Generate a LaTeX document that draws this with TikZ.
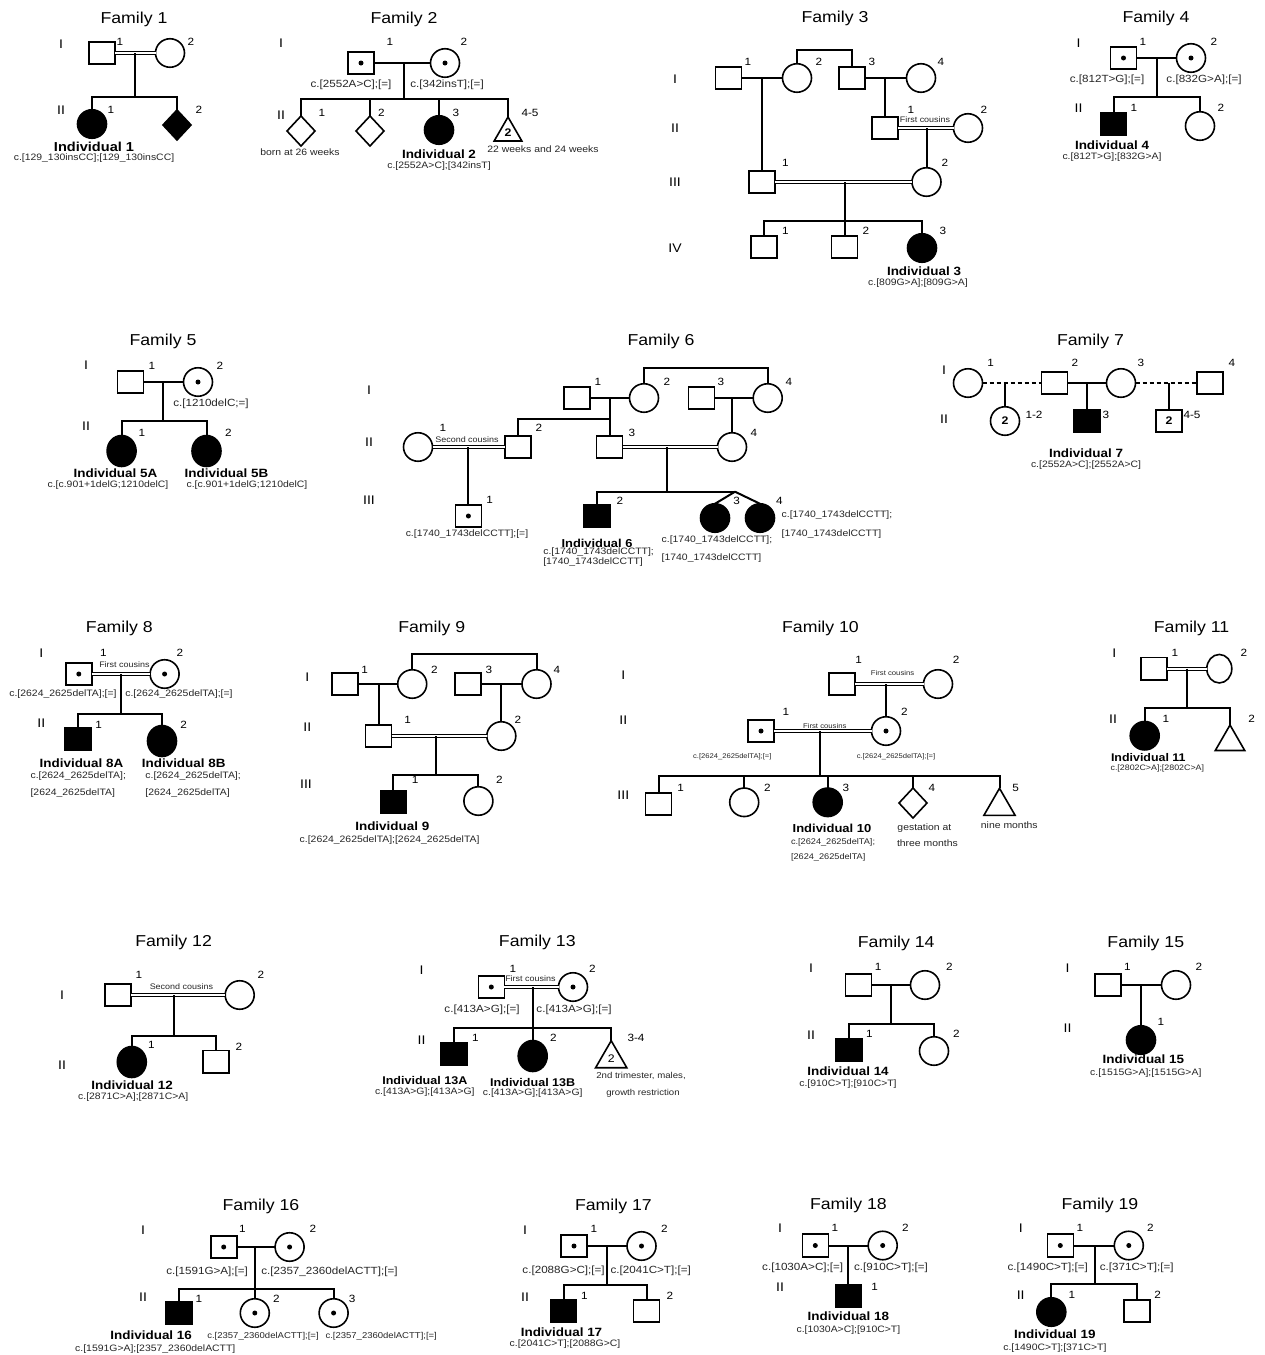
\documentclass[tikz,border=0pt]{standalone}
\usepackage{fontspec}
\setmainfont{Liberation Sans}[FakeStretch=1.12]
\usetikzlibrary{shapes.geometric}
\newcommand\fsz[1]{\fontsize{#1}{#1}\selectfont}
\begin{document}
\begin{tikzpicture}[x=1pt,y=-1pt,
  every node/.style={inner sep=0pt,outer sep=0pt},
  ln/.style={line width=2pt},
  dl/.style={double,line width=1pt,double distance=1.8pt},
  dsh/.style={line width=2pt,dash pattern=on 4pt off 3pt},
  sq/.style={draw,line width=1.6pt,fill=white,minimum width=26pt,minimum height=22.5pt},
  ci/.style={draw,ellipse,line width=1.6pt,fill=white,minimum width=29pt,minimum height=28.5pt},
  dm/.style={draw,diamond,line width=1.6pt,fill=white,minimum width=28pt,minimum height=30pt},
  tri/.style={draw,regular polygon,regular polygon sides=3,line width=1.6pt,fill=white,minimum size=36pt},
  aff/.style={fill=black},
  car/.style={path picture={\fill[black] (path picture bounding box.center) circle (2.5pt);}},
  ttl/.style={font=\fsz{15.8}},
  gen/.style={font=\fsz{12.5}},
  num/.style={font=\fsz{10.5}},
  ind/.style={font=\bfseries\fsz{12}},
  mut/.style={font=\fsz{9.3},text=black!85},
  par/.style={font=\fsz{10.4},text=black!85},
  cous/.style={font=\fsz{8},text=black!85},
  nt/.style={font=\fsz{9.3},text=black!85},
  inn/.style={font=\bfseries\fsz{11}},
]
\fill[white] (0,0) rectangle (1265,1355);
\useasboundingbox (0,0) rectangle (1265,1355);

% ---------------- Family 1
\node[ttl] at (134,19) {Family 1};
\node[gen] at (61,44) {I};
\node[gen] at (61,110) {II};
\node[sq] (f1a) at (102,53) {};
\node[ci] (f1b) at (170,53) {};
\node[num] at (120,42) {1};
\node[num] at (191,42) {2};
\draw[dl] (f1a) -- (f1b);
\coordinate (f1m) at (135,53);
\coordinate (f1s) at (135,97);
\draw[ln] (f1m) -- (f1s);
\node[ci,aff] (f1c) at (92,124) {};
\node[dm,aff] (f1d) at (177,125) {};
\draw[ln] (f1c.north) |- (f1s) -| (f1d.north);
\node[num] at (111,110) {1};
\node[num] at (199,110) {2};
\node[ind,font=\bfseries\fsz{13}] at (94,147) {Individual 1};
\node[mut] at (94,158) {c.[129\_130insCC];[129\_130insCC]};

% ---------------- Family 2
\node[ttl] at (404,19) {Family 2};
\node[gen] at (281,43) {I};
\node[gen] at (281,115) {II};
\node[sq,car] (f2a) at (361,63) {};
\node[ci,car] (f2b) at (445,63) {};
\node[num] at (390,42) {1};
\node[num] at (464,42) {2};
\draw[ln] (f2a) -- (f2b);
\coordinate (f2m) at (404,63);
\coordinate (f2s) at (404,99);
\draw[ln] (f2m) -- (f2s);
\node[par] at (351,85) {c.[2552A>C];[=]};
\node[par] at (447,85) {c.[342insT];[=]};
\node[dm] (f2c) at (301,131) {};
\node[dm] (f2d) at (370,131) {};
\node[ci,aff] (f2e) at (439,130) {};
\node[tri,inn,minimum size=32pt] (f2f) at (508,133) {2};
\draw[ln] (f2c.north) |- (f2s) -| (f2f.north);
\draw[ln] (f2d.north) -- (f2d.north |- f2s);
\draw[ln] (f2e.north) -- (f2e.north |- f2s);
\node[num] at (322,113) {1};
\node[num] at (381.5,113) {2};
\node[num] at (456,113) {3};
\node[num] at (530,113) {4-5};
\node[nt] at (300,152) {born at 26 weeks};
\node[ind] at (439,154) {Individual 2};
\node[mut] at (439,166) {c.[2552A>C];[342insT]};
\node[nt] at (543,149) {22 weeks and 24 weeks};

% ---------------- Family 3
\node[ttl] at (835,18) {Family 3};
\node[gen] at (675,79) {I};
\node[gen] at (675,128) {II};
\node[gen] at (675,182) {III};
\node[gen] at (675,248) {IV};
\node[sq] (f3a) at (728.5,78) {};
\node[ci] (f3b) at (797,78) {};
\node[sq] (f3c) at (852,78) {};
\node[ci] (f3d) at (921,78) {};
\node[num] at (748,62) {1};
\node[num] at (819,62) {2};
\node[num] at (872,62) {3};
\node[num] at (941,62) {4};
\coordinate (f3t) at (824,50);
\draw[ln] (f3b.north) |- (f3t) -| (f3c.north);
\draw[ln] (f3a) -- (f3b);
\draw[ln] (f3c) -- (f3d);
\coordinate (f3m1) at (762,78);
\coordinate (f3m2) at (885,78);
\node[sq] (f3g) at (885,128) {};
\node[ci] (f3h) at (968,128) {};
\draw[ln] (f3m2) -- (f3g.north);
\draw[dl] (f3g) -- (f3h);
\node[cous] at (925,120) {First cousins};
\node[num] at (911,110) {1};
\node[num] at (984,110) {2};
\node[sq] (f3e) at (762,182) {};
\node[ci] (f3i) at (926.5,182) {};
\draw[ln] (f3m1) -- (f3e.north);
\coordinate (f3m3) at (926.5,128);
\draw[ln] (f3m3) -- (f3i.north);
\draw[dl] (f3e) -- (f3i);
\node[num] at (785.5,163) {1};
\node[num] at (945,163) {2};
\coordinate (f3m4) at (844.5,182);
\coordinate (f3s) at (844.5,221);
\draw[ln] (f3m4) -- (f3s);
\node[sq] (f3j) at (764,247) {};
\node[sq] (f3k) at (844.5,247) {};
\node[ci,aff] (f3l) at (922,248) {};
\draw[ln] (f3j.north) |- (f3s) -| (f3l.north);
\draw[ln] (f3k.north) -- (f3k.north |- f3s);
\node[num] at (785.5,231) {1};
\node[num] at (866,231) {2};
\node[num] at (943,231) {3};
\node[ind] at (924,271) {Individual 3};
\node[mut] at (918,283) {c.[809G>A];[809G>A]};

% ---------------- Family 4
\node[ttl] at (1156,18) {Family 4};
\node[gen] at (1078.5,43) {I};
\node[gen] at (1078.5,108) {II};
\node[sq,car] (f4a) at (1123.5,58) {};
\node[ci,car] (f4b) at (1191,58) {};
\node[num] at (1143,42) {1};
\node[num] at (1214,42) {2};
\draw[ln] (f4a) -- (f4b);
\coordinate (f4m) at (1157,58);
\coordinate (f4s) at (1157,97);
\draw[ln] (f4m) -- (f4s);
\node[par] at (1107,80) {c.[812T>G];[=]};
\node[par] at (1204,80) {c.[832G>A];[=]};
\node[sq,aff] (f4c) at (1113.5,124) {};
\node[ci] (f4d) at (1200,126) {};
\draw[ln] (f4c.north) |- (f4s) -| (f4d.north);
\node[num] at (1134,108) {1};
\node[num] at (1221,108) {2};
\node[ind] at (1112,145) {Individual 4};
\node[mut] at (1112,157) {c.[812T>G];[832G>A]};

% ---------------- Family 5
\node[ttl] at (163,341) {Family 5};
\node[gen] at (86,365) {I};
\node[gen] at (86,426) {II};
\node[sq] (f5a) at (130.6,382) {};
\node[ci,car] (f5b) at (198,382) {};
\node[num] at (152,366) {1};
\node[num] at (220,366) {2};
\draw[ln] (f5a) -- (f5b);
\coordinate (f5m) at (163,382);
\coordinate (f5s) at (163,421);
\draw[ln] (f5m) -- (f5s);
\node[par] at (211,404) {c.[1210delC;=]};
\node[ci,aff,minimum height=31pt] (f5c) at (121.6,451) {};
\node[ci,aff,minimum height=31pt] (f5d) at (206.5,451) {};
\draw[ln] (f5c.north) |- (f5s) -| (f5d.north);
\node[num] at (142,433) {1};
\node[num] at (228.5,433) {2};
\node[ind] at (115.5,473) {Individual 5A};
\node[mut] at (108,485) {c.[c.901+1delG;1210delC]};
\node[ind] at (226.5,473) {Individual 5B};
\node[mut] at (247,485) {c.[c.901+1delG;1210delC]};

% ---------------- Family 6
\node[ttl] at (661,341) {Family 6};
\node[gen] at (369,390) {I};
\node[gen] at (369,442) {II};
\node[gen] at (369,500) {III};
\node[sq] (f6a) at (577,398) {};
\node[ci] (f6b) at (644,398) {};
\node[sq] (f6c) at (701.6,398) {};
\node[ci] (f6d) at (767.7,398) {};
\node[num] at (598,382) {1};
\node[num] at (667,382) {2};
\node[num] at (721,382) {3};
\node[num] at (789,382) {4};
\coordinate (f6t) at (700,368);
\draw[ln] (f6b.north) |- (f6t) -| (f6d.north);
\draw[ln] (f6a) -- (f6b);
\draw[ln] (f6c) -- (f6d);
\coordinate (f6m1) at (609.5,398);
\coordinate (f6s1) at (609.5,418.5);
\coordinate (f6m2) at (732,398);
\node[ci] (f6e) at (418,447) {};
\node[sq] (f6f) at (518,447) {};
\node[sq] (f6g) at (609.5,447) {};
\node[ci] (f6h) at (732,447) {};
\draw[ln] (f6m1) -- (f6g.north);
\draw[ln] (f6f.north) |- (f6s1);
\draw[ln] (f6m2) -- (f6h.north);
\draw[dl] (f6e) -- (f6f);
\draw[dl] (f6g) -- (f6h);
\node[cous] at (467,440) {Second cousins};
\node[num] at (443,428) {1};
\node[num] at (539,428) {2};
\node[num] at (632,433) {3};
\node[num] at (754,433) {4};
\coordinate (f6m3) at (468.4,447);
\node[sq,car] (f6i) at (468.4,516) {};
\draw[ln] (f6m3) -- (f6i.north);
\node[num] at (489.6,500) {1};
\node[mut] at (467,534) {c.[1740\_1743delCCTT];[=]};
\coordinate (f6m4) at (666.7,447);
\coordinate (f6s2) at (666.7,491.7);
\coordinate (f6tw) at (735,491.7);
\draw[ln] (f6m4) -- (f6s2);
\node[sq,aff] (f6j) at (597,516) {};
\node[ci,aff] (f6k) at (715,518) {};
\node[ci,aff] (f6l) at (760,518) {};
\draw[ln] (f6j.north) |- (f6tw);
\draw[ln] (f6tw) -- (f6k.north);
\draw[ln] (f6tw) -- (f6l.north);
\node[num] at (620,501) {2};
\node[num] at (736.7,501) {3};
\node[num] at (779.3,501) {4};
\node[ind,font=\bfseries\fsz{11.5}] at (597,543) {Individual 6};
\node[mut,anchor=west] at (543.3,552) {c.[1740\_1743delCCTT];};
\node[mut,anchor=west] at (543.3,562) {[1740\_1743delCCTT]};
\node[mut,anchor=west] at (661.7,540) {c.[1740\_1743delCCTT];};
\node[mut,anchor=west] at (661.7,558) {[1740\_1743delCCTT]};
\node[mut,anchor=west] at (781.7,515) {c.[1740\_1743delCCTT];};
\node[mut,anchor=west] at (781.7,534) {[1740\_1743delCCTT]};

% ---------------- Family 7
\node[ttl] at (1090.5,341) {Family 7};
\node[gen] at (944,370) {I};
\node[gen] at (944,419) {II};
\node[ci] (f7a) at (968,383) {};
\node[sq] (f7b) at (1054.6,383) {};
\node[ci] (f7c) at (1121,383) {};
\node[sq] (f7d) at (1209.7,383) {};
\node[num] at (990.7,363) {1};
\node[num] at (1075,363) {2};
\node[num] at (1141,363) {3};
\node[num] at (1232,363) {4};
\draw[dsh] (f7a) -- (f7b);
\draw[ln] (f7b) -- (f7c);
\draw[dsh] (f7c) -- (f7d);
\coordinate (f7m1) at (1005,383);
\coordinate (f7m2) at (1087,383);
\coordinate (f7m3) at (1169,383);
\node[ci,inn] (f7e) at (1005,421) {2};
\node[sq,aff] (f7f) at (1087,421) {};
\node[sq,inn] (f7g) at (1169,421) {2};
\draw[ln] (f7m1) -- (f7e.north);
\draw[ln] (f7m2) -- (f7f.north);
\draw[ln] (f7m3) -- (f7g.north);
\node[num] at (1034,415) {1-2};
\node[num] at (1106,415) {3};
\node[num] at (1192,415) {4-5};
\node[ind] at (1086,453) {Individual 7};
\node[mut] at (1086,465) {c.[2552A>C];[2552A>C]};

% ---------------- Family 8
\node[ttl] at (119.4,628) {Family 8};
\node[gen] at (41.3,653) {I};
\node[gen] at (41.3,723) {II};
\node[sq,car] (f8a) at (78.8,674) {};
\node[ci,car] (f8b) at (164.6,674) {};
\node[num] at (103.3,653) {1};
\node[num] at (180,653) {2};
\draw[dl] (f8a) -- (f8b);
\node[cous] at (124.4,665) {First cousins};
\coordinate (f8m) at (120.6,674);
\coordinate (f8s) at (120.6,714);
\draw[ln] (f8m) -- (f8s);
\node[par,font=\fsz{9.3}] at (63,694) {c.[2624\_2625delTA];[=]};
\node[par,font=\fsz{9.3}] at (179,694) {c.[2624\_2625delTA];[=]};
\node[sq,aff] (f8c) at (77.7,739) {};
\node[ci,aff,minimum height=31pt] (f8d) at (162,741) {};
\draw[ln] (f8c.north) |- (f8s) -| (f8d.north);
\node[num] at (98.7,725) {1};
\node[num] at (183.7,725) {2};
\node[ind] at (81.5,763) {Individual 8A};
\node[mut,anchor=west] at (30.6,776) {c.[2624\_2625delTA];};
\node[mut,anchor=west] at (30.6,793) {[2624\_2625delTA]};
\node[ind] at (183.7,763) {Individual 8B};
\node[mut,anchor=west] at (145.4,776) {c.[2624\_2625delTA];};
\node[mut,anchor=west] at (145.4,793) {[2624\_2625delTA]};

% ---------------- Family 9
\node[ttl] at (431.7,628) {Family 9};
\node[gen] at (307.3,677) {I};
\node[gen] at (307.3,727) {II};
\node[gen] at (306,784) {III};
\node[sq] (f9a) at (345.2,684) {};
\node[ci] (f9b) at (412.2,684) {};
\node[sq] (f9c) at (467.7,684) {};
\node[ci] (f9d) at (536.5,684) {};
\node[num] at (364.7,670) {1};
\node[num] at (434.4,670) {2};
\node[num] at (489,670) {3};
\node[num] at (556.8,670) {4};
\coordinate (f9t) at (470,654.3);
\draw[ln] (f9b.north) |- (f9t) -| (f9d.north);
\draw[ln] (f9a) -- (f9b);
\draw[ln] (f9c) -- (f9d);
\coordinate (f9m1) at (378.5,684);
\coordinate (f9m2) at (501.3,684);
\node[sq] (f9e) at (378.5,736) {};
\node[ci] (f9f) at (501.3,736) {};
\draw[ln] (f9m1) -- (f9e.north);
\draw[ln] (f9m2) -- (f9f.north);
\draw[dl] (f9e) -- (f9f);
\node[num] at (407.6,720) {1};
\node[num] at (517.8,720) {2};
\coordinate (f9m3) at (435.5,736);
\coordinate (f9s) at (435.5,775);
\draw[ln] (f9m3) -- (f9s);
\node[sq,aff] (f9g) at (393.4,802) {};
\node[ci] (f9h) at (478.4,801) {};
\draw[ln] (f9g.north) |- (f9s) -| (f9h.north);
\node[num] at (415.2,780) {1};
\node[num] at (499.4,780) {2};
\node[ind] at (392.3,826) {Individual 9};
\node[mut] at (389.6,840) {c.[2624\_2625delTA];[2624\_2625delTA]};

% ---------------- Family 10
\node[ttl] at (820.5,628) {Family 10};
\node[gen] at (623.3,675) {I};
\node[gen] at (623.3,720) {II};
\node[gen] at (623.3,795) {III};
\node[sq] (f10a) at (842.2,684) {};
\node[ci] (f10b) at (938,684) {};
\node[num] at (858.7,660) {1};
\node[num] at (956.2,660) {2};
\draw[dl] (f10a) -- (f10b);
\node[cous,font=\fsz{6.9}] at (892.6,673) {First cousins};
\coordinate (f10m1) at (886,684);
\node[ci,car] (f10c) at (886,731) {};
\node[sq,car] (f10d) at (761,731) {};
\draw[ln] (f10m1) -- (f10c.north);
\draw[dl] (f10d) -- (f10c);
\node[cous,font=\fsz{6.9}] at (824.8,726) {First cousins};
\node[num] at (785.8,712) {1};
\node[num] at (904.5,712) {2};
\node[par,font=\fsz{6.8}] at (732.3,757) {c.[2624\_2625delTA];[=]};
\node[par,font=\fsz{6.8}] at (896,757) {c.[2624\_2625delTA];[=]};
\coordinate (f10m2) at (819.7,731);
\coordinate (f10s) at (819.7,776);
\draw[ln] (f10m2) -- (f10s);
\node[sq] (f10e) at (658.5,804) {};
\node[ci] (f10f) at (744.2,802.3) {};
\node[ci,aff] (f10g) at (827.7,802.3) {};
\node[dm] (f10h) at (913,803) {};
\node[tri] (f10i) at (999.5,806.3) {};
\draw[ln] (f10e.north) |- (f10s) -| (f10i.north);
\draw[ln] (f10f.north) -- (f10f.north |- f10s);
\draw[ln] (f10g.north) -- (f10g.north |- f10s);
\draw[ln] (f10h.north) -- (f10h.north |- f10s);
\node[num] at (680.6,788) {1};
\node[num] at (767.5,788) {2};
\node[num] at (846,788) {3};
\node[num] at (932,788) {4};
\node[num] at (1015.6,788) {5};
\node[ind,font=\bfseries\fsz{11.6}] at (832,828) {Individual 10};
\node[mut,font=\fsz{8.2},anchor=west] at (791,842) {c.[2624\_2625delTA];};
\node[mut,font=\fsz{8.2},anchor=west] at (791,857) {[2624\_2625delTA]};
\node[nt] at (924.4,828) {gestation at};
\node[nt] at (927.4,843) {three months};
\node[nt] at (1009.3,825) {nine months};

% ---------------- Family 11
\node[ttl] at (1191.6,628) {Family 11};
\node[gen] at (1114.3,653) {I};
\node[gen] at (1113,719) {II};
\node[sq] (f11a) at (1154,668.7) {};
\node[ci,minimum width=25pt] (f11b) at (1219.3,668.7) {};
\node[num] at (1175,652.7) {1};
\node[num] at (1244,652.7) {2};
\draw[dl] (f11a) -- (f11b);
\coordinate (f11m) at (1186.7,668.7);
\coordinate (f11s) at (1186.7,708.3);
\draw[ln] (f11m) -- (f11s);
\node[ci,aff] (f11c) at (1144.7,735.7) {};
\node[tri,minimum size=34pt] (f11d) at (1230,742) {};
\draw[ln] (f11c.north) |- (f11s) -| (f11d.north);
\node[num] at (1166,719.3) {1};
\node[num] at (1251.7,719.3) {2};
\node[ind,font=\bfseries\fsz{11.1}] at (1148.3,757.3) {Individual 11};
\node[mut,font=\fsz{7.9}] at (1157.3,768.3) {c.[2802C>A];[2802C>A]};

% ---------------- Family 12
\node[ttl] at (173.6,942) {Family 12};
\node[gen] at (62,995) {I};
\node[gen] at (62,1065) {II};
\node[sq] (f12a) at (118,995) {};
\node[ci] (f12b) at (239.7,995) {};
\node[num] at (139,975) {1};
\node[num] at (260.8,975) {2};
\draw[dl] (f12a) -- (f12b);
\node[cous] at (181.4,987) {Second cousins};
\coordinate (f12m) at (173.6,995);
\coordinate (f12s) at (173.6,1036);
\draw[ln] (f12m) -- (f12s);
\node[ci,aff,minimum height=31pt] (f12c) at (131.8,1062) {};
\node[sq] (f12d) at (215.8,1061.7) {};
\draw[ln] (f12c.north) |- (f12s) -| (f12d.north);
\node[num] at (151.5,1045) {1};
\node[num] at (238.8,1047) {2};
\node[ind] at (132.2,1085) {Individual 12};
\node[mut] at (133.2,1097) {c.[2871C>A];[2871C>A]};

% ---------------- Family 13
\node[ttl] at (537.3,942) {Family 13};
\node[gen] at (421.5,970) {I};
\node[gen] at (421.5,1040) {II};
\node[sq,car] (f13a) at (491.3,987) {};
\node[ci,car] (f13b) at (573,987) {};
\node[num] at (513,969) {1};
\node[num] at (592.4,969) {2};
\draw[dl] (f13a) -- (f13b);
\node[cous] at (530.4,979) {First cousins};
\coordinate (f13m) at (532.7,987);
\coordinate (f13s) at (532.7,1028);
\draw[ln] (f13m) -- (f13s);
\node[par] at (482,1010) {c.[413A>G];[=]};
\node[par] at (574,1010) {c.[413A>G];[=]};
\node[sq,aff] (f13c) at (453.7,1054) {};
\node[ci,aff,minimum height=31pt] (f13d) at (532.7,1056) {};
\node[tri,inn,font=\fsz{11}] (f13e) at (611.2,1058.7) {2};
\draw[ln] (f13c.north) |- (f13s) -| (f13e.north);
\draw[ln] (f13d.north) -- (f13d.north |- f13s);
\node[num] at (475.3,1038) {1};
\node[num] at (553.3,1038) {2};
\node[num] at (636,1038) {3-4};
\node[ind,font=\bfseries\fsz{11.2}] at (424.8,1080) {Individual 13A};
\node[mut] at (424.8,1092) {c.[413A>G];[413A>G]};
\node[ind,font=\bfseries\fsz{11.2}] at (532.7,1082) {Individual 13B};
\node[mut] at (532.7,1093) {c.[413A>G];[413A>G]};
\node[nt,font=\fsz{8.6}] at (641,1076) {2nd trimester, males,};
\node[nt,font=\fsz{8.6}] at (643,1093) {growth restriction};

% ---------------- Family 14
\node[ttl] at (896.2,943) {Family 14};
\node[gen] at (811,968) {I};
\node[gen] at (811,1035) {II};
\node[sq] (f14a) at (858.3,985) {};
\node[ci] (f14b) at (925,985) {};
\node[num] at (878.2,967) {1};
\node[num] at (949.4,967) {2};
\draw[ln] (f14a) -- (f14b);
\coordinate (f14m) at (891,985);
\coordinate (f14s) at (891,1024);
\draw[ln] (f14m) -- (f14s);
\node[sq,aff] (f14c) at (849,1050) {};
\node[ci] (f14d) at (934,1051) {};
\draw[ln] (f14c.north) |- (f14s) -| (f14d.north);
\node[num] at (869.5,1034) {1};
\node[num] at (956.4,1034) {2};
\node[ind] at (848,1071) {Individual 14};
\node[mut] at (848,1084) {c.[910C>T];[910C>T]};

% ---------------- Family 15
\node[ttl] at (1145.8,943) {Family 15};
\node[gen] at (1067.6,968) {I};
\node[gen] at (1067.6,1028) {II};
\node[sq] (f15a) at (1108,985) {};
\node[ci] (f15b) at (1176,985) {};
\node[num] at (1127.4,967) {1};
\node[num] at (1199,967) {2};
\draw[ln] (f15a) -- (f15b);
\coordinate (f15m) at (1141,985);
\node[ci,aff] (f15c) at (1141,1040) {};
\draw[ln] (f15m) -- (f15c.north);
\node[num] at (1160.8,1022) {1};
\node[ind] at (1143.4,1059) {Individual 15};
\node[mut] at (1145.8,1073) {c.[1515G>A];[1515G>A]};

% ---------------- Family 16
\node[ttl] at (261,1206) {Family 16};
\node[gen] at (143,1230) {I};
\node[gen] at (143,1297) {II};
\node[sq,car] (f16a) at (223.7,1247) {};
\node[ci,car] (f16b) at (289.6,1247) {};
\node[num] at (242.4,1229) {1};
\node[num] at (312.8,1229) {2};
\draw[ln] (f16a) -- (f16b);
\coordinate (f16m) at (254.8,1247);
\coordinate (f16s) at (254.8,1289);
\draw[ln] (f16m) -- (f16s);
\node[par] at (207.1,1272) {c.[1591G>A];[=]};
\node[par] at (329.4,1272) {c.[2357\_2360delACTT];[=]};
\node[sq,aff] (f16c) at (179,1313) {};
\node[ci,car] (f16d) at (254.8,1313) {};
\node[ci,car] (f16e) at (333.6,1313) {};
\draw[ln] (f16c.north) |- (f16s) -| (f16e.north);
\draw[ln] (f16d.north) -- (f16d.north |- f16s);
\node[num] at (198.9,1299) {1};
\node[num] at (276.4,1299) {2};
\node[num] at (352.2,1299) {3};
\node[ind] at (151.2,1335) {Individual 16};
\node[mut] at (155.3,1349) {c.[1591G>A];[2357\_2360delACTT]};
\node[mut,font=\fsz{8.5}] at (263,1336) {c.[2357\_2360delACTT];[=]};
\node[mut,font=\fsz{8.5}] at (381.2,1336) {c.[2357\_2360delACTT];[=]};

% ---------------- Family 17
\node[ttl] at (613.4,1206) {Family 17};
\node[gen] at (525,1230) {I};
\node[gen] at (525,1297) {II};
\node[sq,car] (f17a) at (574,1246) {};
\node[ci,car] (f17b) at (641.5,1246) {};
\node[num] at (593.9,1229) {1};
\node[num] at (664.3,1229) {2};
\draw[ln] (f17a) -- (f17b);
\coordinate (f17m) at (607,1246);
\coordinate (f17s) at (607,1285);
\draw[ln] (f17m) -- (f17s);
\node[par] at (563.6,1271) {c.[2088G>C];[=]};
\node[par] at (650.7,1271) {c.[2041C>T];[=]};
\node[sq,aff] (f17c) at (563.6,1311) {};
\node[sq] (f17d) at (646.5,1311) {};
\draw[ln] (f17c.north) |- (f17s) -| (f17d.north);
\node[num] at (584.3,1296) {1};
\node[num] at (670,1296) {2};
\node[ind] at (561.5,1332) {Individual 17};
\node[mut] at (565,1344) {c.[2041C>T];[2088G>C]};

% ---------------- Family 18
\node[ttl] at (848.4,1205) {Family 18};
\node[gen] at (780,1228) {I};
\node[gen] at (780,1287) {II};
\node[sq,car] (f18a) at (815.3,1245.5) {};
\node[ci,car] (f18b) at (882.7,1245.5) {};
\node[num] at (835,1228) {1};
\node[num] at (905.4,1228) {2};
\draw[ln] (f18a) -- (f18b);
\coordinate (f18m) at (848.4,1245.5);
\node[par] at (802.7,1268) {c.[1030A>C];[=]};
\node[par] at (891,1268) {c.[910C>T];[=]};
\node[sq,aff] (f18c) at (848.4,1296) {};
\draw[ln] (f18m) -- (f18c.north);
\node[num] at (874.7,1287) {1};
\node[ind] at (848.4,1316) {Individual 18};
\node[mut] at (848.4,1330) {c.[1030A>C];[910C>T]};

% ---------------- Family 19
\node[ttl] at (1100,1205) {Family 19};
\node[gen] at (1020.7,1228) {I};
\node[gen] at (1020.7,1295) {II};
\node[sq,car] (f19a) at (1060.3,1245.5) {};
\node[ci,car] (f19b) at (1128.8,1245.5) {};
\node[num] at (1080,1228) {1};
\node[num] at (1150.4,1228) {2};
\draw[ln] (f19a) -- (f19b);
\coordinate (f19m) at (1094.5,1245.5);
\coordinate (f19s) at (1094.5,1284.3);
\draw[ln] (f19m) -- (f19s);
\node[par] at (1047.7,1268) {c.[1490C>T];[=]};
\node[par] at (1136.7,1268) {c.[371C>T];[=]};
\node[ci,aff] (f19c) at (1051.3,1312) {};
\node[sq] (f19d) at (1136.7,1311) {};
\draw[ln] (f19c.north) |- (f19s) -| (f19d.north);
\node[num] at (1071.8,1295) {1};
\node[num] at (1157.6,1295) {2};
\node[ind] at (1054.9,1334) {Individual 19};
\node[mut] at (1054.9,1348) {c.[1490C>T];[371C>T]};
\end{tikzpicture}
\end{document}
